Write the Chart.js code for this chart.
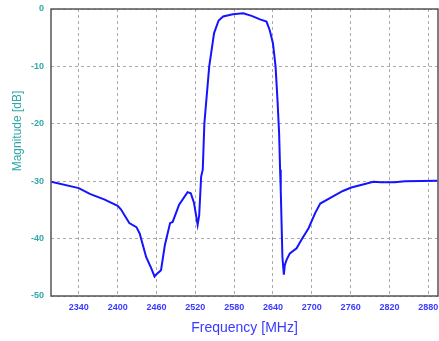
<!DOCTYPE html>
<html>
<head>
<meta charset="utf-8">
<script src="https://cdn.jsdelivr.net/npm/chart.js@4.4.0/dist/chart.umd.min.js"></script>
<style>
  html, body { margin: 0; padding: 0; background: #fff; }
  #wrap { width: 439px; height: 341px; }
</style>
</head>
<body>
<div id="wrap"><canvas id="chart"></canvas></div>
<script>
// frequency (MHz) and magnitude (dB)
const freq = [2297, 2340, 2357, 2380, 2400, 2405, 2418, 2429, 2434, 2444, 2452, 2457, 2460,
  2467, 2473, 2481, 2485, 2495, 2508, 2513, 2518, 2523.6, 2526, 2529, 2531.5, 2534, 2541.5,
  2549, 2556, 2563, 2578, 2594, 2607, 2620, 2630, 2635, 2640, 2644, 2647, 2649.5, 2651,
  2652, 2654.6, 2656.8, 2658.3, 2661, 2666, 2676.5, 2684, 2695, 2705, 2713, 2730, 2748,
  2761, 2782, 2795, 2807, 2828, 2844, 2894];
const magnitude = [-30.1, -31.2, -32.2, -33.2, -34.3, -34.9, -37.3, -38.0, -39.1, -43.2, -45.2, -46.6, -46.2,
  -45.5, -41.1, -37.3, -37.1, -34.1, -31.9, -32.1, -33.8, -37.6, -35.9, -29.2, -28.0, -19.9, -10.0,
  -4.2, -2.0, -1.3, -0.9, -0.75, -1.2, -1.8, -2.2, -3.7, -6.0, -10.0, -15.9, -21.7, -28.0,
  -31.5, -43.2, -46.3, -44.6, -43.7, -42.6, -41.7, -40.2, -38.2, -35.6, -33.9, -32.8, -31.7,
  -31.1, -30.5, -30.1, -30.2, -30.2, -30.0, -29.9];
const xTicks = [2340, 2400, 2460, 2520, 2580, 2640, 2700, 2760, 2820, 2880];
const yTicks = [0, -10, -20, -30, -40, -50];

const points = freq.map((f, i) => ({ x: f, y: magnitude[i] }));

// box round the plot area and the y title, which sits above the axis middle
const frameBox = {
  id: "frameBox",
  afterDraw(chart) {
    const { ctx, chartArea: a } = chart;
    ctx.save();
    ctx.strokeStyle = "#555";
    ctx.lineWidth = 1.5;
    ctx.strokeRect(a.left, a.top, a.right - a.left, a.bottom - a.top);
    ctx.translate(18, 131);
    ctx.rotate(-Math.PI / 2);
    ctx.fillStyle = "#30a8a8";
    ctx.font = "12px 'Liberation Sans', Arial";
    ctx.textAlign = "center";
    ctx.textBaseline = "middle";
    ctx.fillText("Magnitude [dB]", 0, 0);
    ctx.restore();
  }
};

new Chart(document.getElementById("chart"), {
  type: "scatter",
  data: {
    datasets: [{
      data: points,
      showLine: true,
      borderColor: "#1414ff",
      borderWidth: 2,
      pointRadius: 0,
      tension: 0
    }]
  },
  options: {
    responsive: true,
    maintainAspectRatio: false,
    animation: false,
    layout: { padding: { top: 9, right: 1, left: 0, bottom: 0 } },
    plugins: { legend: { display: false }, tooltip: { enabled: false } },
    scales: {
      x: {
        type: "linear",
        min: 2297,
        max: 2895,
        afterBuildTicks: s => { s.ticks = xTicks.map(v => ({ value: v })); },
        afterFit: s => { s.height = 45; s.paddingLeft = 0; s.paddingRight = 0; },
        grid: { color: "#aaa", drawTicks: false },
        border: { display: false, dash: [3, 3] },
        ticks: {
          color: "#3a3aff",
          font: { family: "Liberation Sans, Arial", size: 9, weight: "bold" },
          padding: 6,
          maxRotation: 0,
          callback: v => String(v)
        },
        title: {
          display: true,
          text: "Frequency [MHz]",
          color: "#3a3aff",
          font: { family: "Liberation Sans, Arial", size: 14 },
          padding: { top: 3 }
        }
      },
      y: {
        min: -50,
        max: 0,
        afterBuildTicks: s => { s.ticks = yTicks.map(v => ({ value: v })); },
        afterFit: s => { s.width = 51; s.paddingTop = 0; s.paddingBottom = 0; },
        grid: { color: "#aaa", drawTicks: false },
        border: { display: false, dash: [3, 3] },
        ticks: {
          color: "#30a8a8",
          font: { family: "Liberation Sans, Arial", size: 9, weight: "bold" },
          padding: 7,
          callback: v => String(v)
        }
      }
    }
  },
  plugins: [frameBox]
});
</script>
</body>
</html>
